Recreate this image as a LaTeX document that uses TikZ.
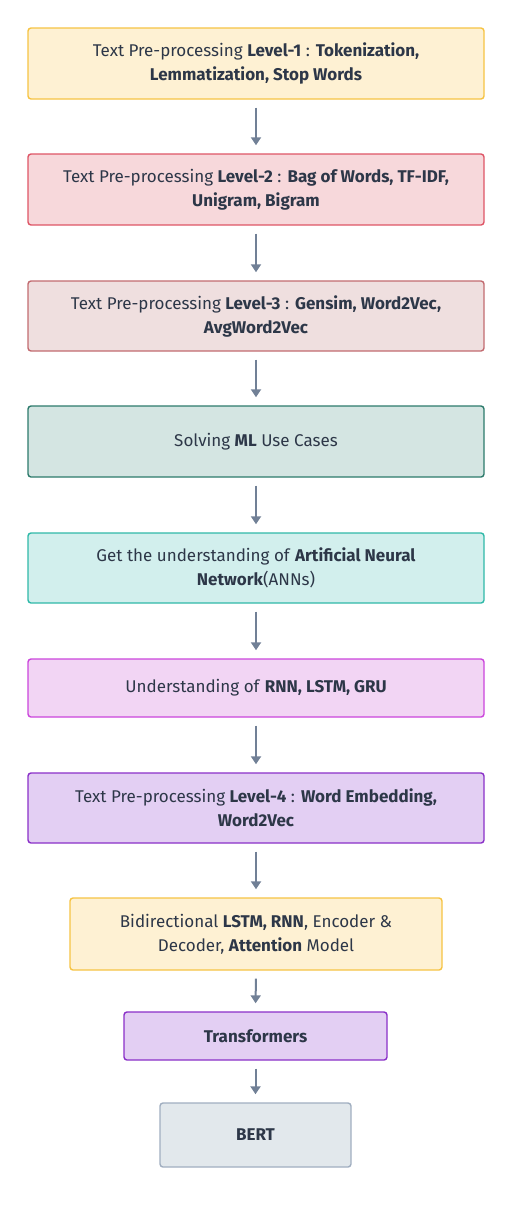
\documentclass[tikz,border=0pt]{standalone}
\usepackage{fontspec}
\setmainfont{Fira Sans}
\usetikzlibrary{arrows.meta}
\definecolor{txt}{HTML}{2D3748}
\definecolor{arr}{HTML}{718096}
\definecolor{yelF}{HTML}{FEF1D3}\definecolor{yelD}{HTML}{F6C343}
\definecolor{redF}{HTML}{F7D8DB}\definecolor{redD}{HTML}{DE5566}
\definecolor{rosF}{HTML}{EFDFDF}\definecolor{rosD}{HTML}{C26B70}
\definecolor{tealF}{HTML}{D4E5E2}\definecolor{tealD}{HTML}{2C7A6B}
\definecolor{cyanF}{HTML}{D2EFED}\definecolor{cyanD}{HTML}{2FB9A8}
\definecolor{pinkF}{HTML}{F2D5F4}\definecolor{pinkD}{HTML}{CB45DC}
\definecolor{purF}{HTML}{E3CFF3}\definecolor{purD}{HTML}{8A30C8}
\definecolor{grayF}{HTML}{E2E8EC}\definecolor{grayD}{HTML}{A0AEC0}
\tikzset{
  box/.style={draw, line width=1.4pt, rounded corners=3pt, align=center,
    text=txt, font=\fontsize{17}{24}\selectfont, inner sep=0pt},
  flow/.style={draw=arr, line width=2pt, -{Triangle[width=10pt,length=8pt]},
    shorten <=8pt, shorten >=8pt}
}
\begin{document}
\begin{tikzpicture}[x=1pt,y=-1pt]
\useasboundingbox (0,0) rectangle (513,1211);
\node[box, fill=yelF, draw=yelD, minimum width=456pt, minimum height=71pt] (b1) at (256,63.5)
  {Text Pre-processing \textbf{Level-1} : \textbf{Tokenization,}\\\textbf{Lemmatization, Stop Words}};
\node[box, fill=redF, draw=redD, minimum width=456pt, minimum height=71pt] (b2) at (256,189.5)
  {Text Pre-processing \textbf{Level-2} : \textbf{Bag of Words, TF-IDF,}\\\textbf{Unigram, Bigram}};
\node[box, fill=rosF, draw=rosD, minimum width=456pt, minimum height=70pt] (b3) at (256,316)
  {Text Pre-processing \textbf{Level-3} : \textbf{Gensim, Word2Vec,}\\\textbf{AvgWord2Vec}};
\node[box, fill=tealF, draw=tealD, minimum width=456pt, minimum height=71pt] (b4) at (256,441.5)
  {Solving \textbf{ML} Use Cases};
\node[box, fill=cyanF, draw=cyanD, minimum width=456pt, minimum height=70pt] (b5) at (256,568)
  {Get the understanding of \textbf{Artificial Neural}\\\textbf{Network}(ANNs)};
\node[box, fill=pinkF, draw=pinkD, minimum width=456pt, minimum height=58pt] (b6) at (256,688)
  {Understanding of \textbf{RNN, LSTM, GRU}};
\node[box, fill=purF, draw=purD, minimum width=456pt, minimum height=70pt] (b7) at (256,808)
  {Text Pre-processing \textbf{Level-4} : \textbf{Word Embedding,}\\\textbf{Word2Vec}};
\node[box, fill=yelF, draw=yelD, minimum width=372pt, minimum height=72pt] (b8) at (256,934)
  {Bidirectional \textbf{LSTM, RNN}, Encoder \&\\Decoder, \textbf{Attention} Model};
\node[box, fill=purF, draw=purD, minimum width=263pt, minimum height=48pt] (b9) at (255.5,1036)
  {\textbf{Transformers}};
\node[box, fill=grayF, draw=grayD, minimum width=191pt, minimum height=64pt] (b10) at (255.5,1135)
  {\textbf{BERT}};
\draw[flow] (b1.south) -- (b2.north);
\draw[flow] (b2.south) -- (b3.north);
\draw[flow] (b3.south) -- (b4.north);
\draw[flow] (b4.south) -- (b5.north);
\draw[flow] (b5.south) -- (b6.north);
\draw[flow] (b6.south) -- (b7.north);
\draw[flow] (b7.south) -- (b8.north);
\draw[flow] (b8.south) -- (b9.north);
\draw[flow] (b9.south) -- (b10.north);
\end{tikzpicture}
\end{document}
